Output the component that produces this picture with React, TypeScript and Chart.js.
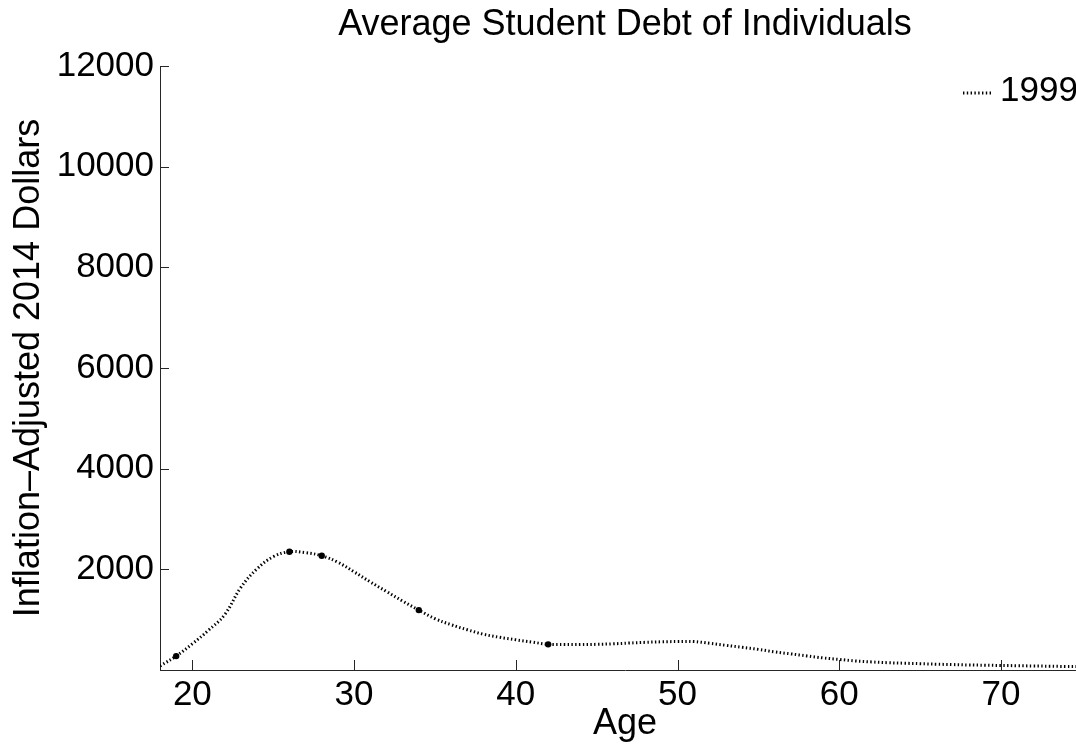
import React, { useEffect, useRef } from "react";
import { Chart, registerables } from "chart.js";

Chart.register(...registerables);

const titleText = "Average Student Debt of Individuals";
const xLabel = "Age";
const yLabel = "Inflation\u2013Adjusted 2014 Dollars";
const seriesLabel = "1999";

const ages = [
  18, 19, 20, 21, 22, 23, 24, 25, 26, 27, 28, 29, 30, 31, 32, 33, 34, 35, 36, 37,
  38, 39, 40, 41, 42, 43, 44, 45, 46, 47, 48, 49, 50, 51, 52, 53, 54, 55, 56, 57,
  58, 59, 60, 61, 62, 63, 64, 65, 66, 67, 68, 69, 70, 71, 72, 73, 74, 75, 76,
];
const debt1999 = [
  80, 276, 520, 790, 1100, 1640, 2010, 2250, 2350, 2330, 2270, 2140, 1950, 1750, 1560, 1370, 1190, 1020, 900, 800,
  710, 650, 600, 555, 510, 505, 505, 510, 520, 535, 550, 560, 565, 565, 530, 490, 450, 410, 360, 320,
  280, 240, 210, 180, 160, 145, 135, 125, 115, 108, 100, 95, 90, 85, 80, 75, 70, 68, 65,
];
const markerAges = [19, 26, 28, 34, 42];
const xTicks = [20, 30, 40, 50, 60, 70];
const yTicks = [2000, 4000, 6000, 8000, 10000, 12000];

const FONT = "'Liberation Sans', Arial, Helvetica, sans-serif";
const AXIS_COLOR = "#262626";

const matlabPlugin = {
  id: "matlabAxes",
  afterDatasetsDraw(chart: any) {
    const { ctx, chartArea, scales } = chart;
    ctx.save();
    ctx.strokeStyle = AXIS_COLOR;
    ctx.lineWidth = 1;
    for (const t of scales.x.ticks) {
      const px = Math.round(scales.x.getPixelForValue(t.value)) + 0.5;
      ctx.beginPath();
      ctx.moveTo(px, chartArea.bottom);
      ctx.lineTo(px, chartArea.bottom - 10);
      ctx.stroke();
    }
    for (const t of scales.y.ticks) {
      const py = Math.round(scales.y.getPixelForValue(t.value)) + 0.5;
      ctx.beginPath();
      ctx.moveTo(chartArea.left, py);
      ctx.lineTo(chartArea.left + 9, py);
      ctx.stroke();
    }
    // legend (inside axes, top right, no box)
    const ds = chart.data.datasets[0];
    const ly = chartArea.top + 27;
    ctx.strokeStyle = "#000";
    ctx.lineWidth = 3;
    ctx.setLineDash(ds.borderDash);
    ctx.beginPath();
    ctx.moveTo(chartArea.right - 127, ly);
    ctx.lineTo(chartArea.right - 97, ly);
    ctx.stroke();
    ctx.setLineDash([]);
    ctx.fillStyle = "#000";
    ctx.font = `35px ${FONT}`;
    ctx.textBaseline = "middle";
    ctx.textAlign = "left";
    ctx.fillText(ds.label, chartArea.right - 90, chartArea.top + 25);
    ctx.restore();
  },
};

export default function App() {
  const ref = useRef<HTMLCanvasElement>(null);

  useEffect(() => {
    if (!ref.current) return;
    const chart = new Chart(ref.current, {
      type: "line",
      data: {
        datasets: [
          {
            label: seriesLabel,
            data: ages.map((a, i) => ({ x: a, y: debt1999[i] })),
            borderColor: "#000",
            borderWidth: 3,
            borderDash: [1.4, 2.4],
            tension: 0.4,
            fill: false,
            pointRadius: ages.map((a) => (markerAges.includes(a) ? 3.2 : 0)),
            pointHoverRadius: 0,
            pointBackgroundColor: "#000",
            pointBorderColor: "#000",
            pointBorderWidth: 0,
          },
        ],
      },
      options: {
        animation: false,
        responsive: false,
        layout: { padding: { left: 0, right: 10, top: 0, bottom: 0 } },
        plugins: {
          legend: { display: false },
          tooltip: { enabled: false },
          title: {
            display: true,
            text: titleText,
            fullSize: false,
            color: "#000",
            font: { family: FONT, size: 36, weight: "normal" as any, lineHeight: 1.2 },
            padding: { top: 3.4, bottom: 19.4 },
          },
        },
        scales: {
          x: {
            type: "linear",
            min: 18,
            max: 75.5,
            afterBuildTicks: (s: any) => {
              s.ticks = xTicks.map((v) => ({ value: v }));
            },
            afterFit: (s: any) => {
              s.height = 78;
            },
            grid: { display: true, drawOnChartArea: false, drawTicks: false },
            border: { display: true, color: AXIS_COLOR, width: 1 },
            ticks: {
              color: "#000",
              font: { family: FONT, size: 35, lineHeight: 1.2 },
              padding: 4,
              autoSkip: false,
              maxRotation: 0,
              callback: (v: any) => String(v),
            },
            title: {
              display: true,
              text: xLabel,
              color: "#000",
              font: { family: FONT, size: 36, lineHeight: 1.2 },
              padding: { top: 0, bottom: 1.9 },
            },
          },
          y: {
            type: "linear",
            min: 0,
            max: 12000,
            afterBuildTicks: (s: any) => {
              s.ticks = yTicks.map((v) => ({ value: v }));
            },
            afterFit: (s: any) => {
              s.width = 160;
            },
            grid: { display: true, drawOnChartArea: false, drawTicks: false },
            border: { display: true, color: AXIS_COLOR, width: 1 },
            ticks: {
              color: "#000",
              font: { family: FONT, size: 35, lineHeight: 1.2 },
              padding: 6,
              autoSkip: false,
              callback: (v: any) => String(v),
            },
            title: {
              display: true,
              text: yLabel,
              color: "#000",
              font: { family: FONT, size: 36, lineHeight: 1.2 },
              padding: { top: 7.4, bottom: 0 },
            },
          },
        },
      },
      plugins: [matlabPlugin],
    });
    return () => chart.destroy();
  }, []);

  return (
    <div
      style={{
        position: "absolute",
        left: 0,
        top: 0,
        width: 1076,
        height: 748,
        overflow: "hidden",
        background: "#fff",
      }}
    >
      <canvas ref={ref} width={1100} height={748} style={{ display: "block" }} />
    </div>
  );
}
